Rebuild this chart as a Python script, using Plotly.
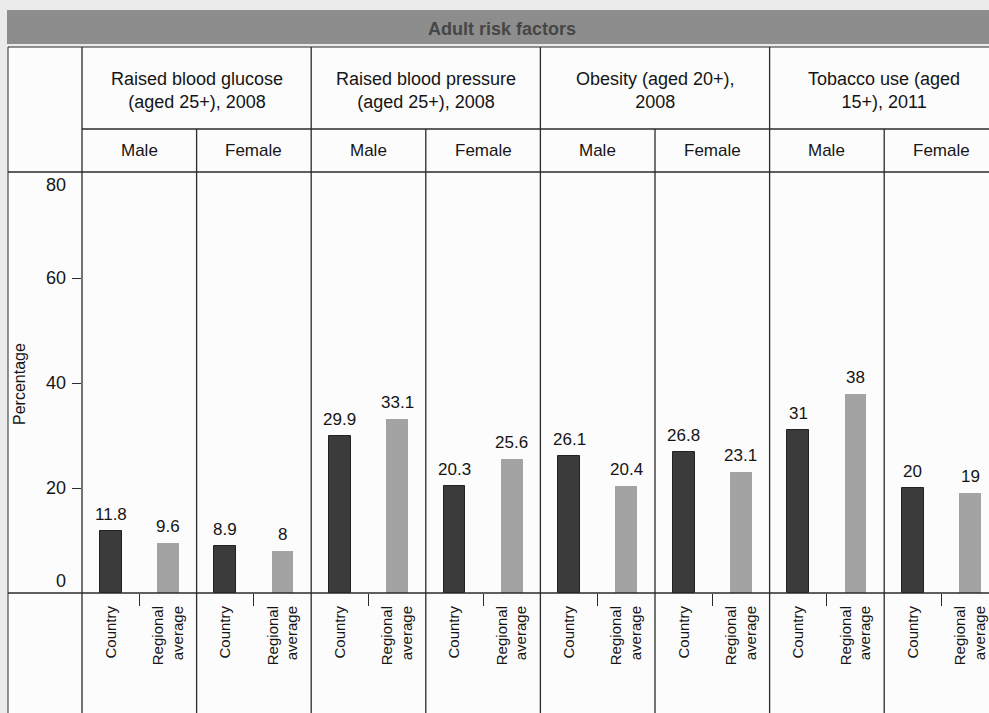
import plotly.graph_objects as go

# ---- data ----
groups = ["Raised blood glucose<br>(aged 25+), 2008",
          "Raised blood pressure<br>(aged 25+), 2008",
          "Obesity (aged 20+),<br>2008",
          "Tobacco use (aged<br>15+), 2011"]
sexes = ["Male", "Female"]
series_names = ["Country", "Regional<br>average"]
country_vals = [11.8, 8.9, 29.9, 20.3, 26.1, 26.8, 31, 20]
regional_vals = [9.6, 8, 33.1, 25.6, 20.4, 23.1, 38, 19]
country_labels = ["11.8", "8.9", "29.9", "20.3", "26.1", "26.8", "31", "20"]
regional_labels = ["9.6", "8", "33.1", "25.6", "20.4", "23.1", "38", "19"]
y_ticks = [0, 20, 40, 60, 80]
title = "Adult risk factors"
y_title = "Percentage"

# ---- geometry (pixels of the 989x713 page) ----
W, H = 989, 713
X0, SLOT = 82, 57.3
YTOP, YBOT = 173, 593
xr = [-0.5, -0.5 + (W - X0) / SLOT]


def px(x):
    return x / W


def py(y):
    return 1 - y / H


def dx(v):  # data x -> page pixel
    return X0 + (v - xr[0]) * SLOT


n = len(country_vals)
cx = [2 * i for i in range(n)]
rx = [2 * i + 1 for i in range(n)]

LINE = "#2b2b2b"
TXT = "#151515"
FONT = "Liberation Sans, Arial, sans-serif"

fig = go.Figure()
fig.add_trace(go.Bar(x=cx, y=country_vals, width=0.38,
                     marker=dict(color="#3b3b3b", line=dict(color="#222222", width=1)),
                     name="Country", showlegend=False, hoverinfo="y"))
fig.add_trace(go.Bar(x=rx, y=regional_vals, width=0.38,
                     marker=dict(color="#a3a3a3", line=dict(width=0)),
                     name="Regional average", showlegend=False, hoverinfo="y"))

ann = []
for xs, vals, labs in ((cx, country_vals, country_labels), (rx, regional_vals, regional_labels)):
    for x, v, t in zip(xs, vals, labs):
        ann.append(dict(x=x, y=v, xref="x", yref="y", text=t, showarrow=False,
                        yanchor="bottom", yshift=5, font=dict(size=17, color=TXT, family=FONT)))

# y tick labels (end labels sit inside the plot band as in the source table)
y_min, y_max = y_ticks[0], y_ticks[-1]
for t in y_ticks:
    shift = 12 if t == y_min else (-12 if t == y_max else 0)
    ann.append(dict(x=px(X0 - 14), y=t, xref="paper", yref="y", text=str(t), showarrow=False,
                    xanchor="right", yanchor="middle", yshift=shift,
                    font=dict(size=18, color=TXT, family=FONT)))

# header annotations
for g, name in enumerate(groups):
    ann.append(dict(x=px(dx(4 * g + 1.5)), y=py(90), xref="paper", yref="paper", text=name,
                    showarrow=False, xanchor="center", yanchor="middle",
                    font=dict(size=18, color=TXT, family=FONT)))
    for s, sname in enumerate(sexes):
        ann.append(dict(x=px(dx(4 * g + 2 * s + 0.5)), y=py(151), xref="paper", yref="paper", text=sname,
                        showarrow=False, xanchor="center", yanchor="middle",
                        font=dict(size=17, color=TXT, family=FONT)))

ann.append(dict(x=px(502), y=py(29), xref="paper", yref="paper", text="<b>" + title + "</b>",
                showarrow=False, xanchor="center", yanchor="middle",
                font=dict(size=18, color="#464646", family=FONT)))
ann.append(dict(x=px(19), y=py(384), xref="paper", yref="paper", text=y_title, textangle=-90,
                showarrow=False, xanchor="center", yanchor="middle",
                font=dict(size=16, color=TXT, family=FONT)))

shapes = []
# page / table backgrounds
shapes.append(dict(type="rect", xref="paper", yref="paper", x0=px(8), x1=1, y0=0, y1=py(47),
                   fillcolor="#fcfcfc", line=dict(width=0), layer="below"))
shapes.append(dict(type="rect", xref="paper", yref="paper", x0=px(7), x1=1, y0=py(44), y1=py(10),
                   fillcolor="#8d8d8d", line=dict(width=0), layer="below"))


def hline(y, x0, x1, w=1.4):
    shapes.append(dict(type="line", xref="paper", yref="paper", x0=px(x0), x1=px(x1), y0=py(y), y1=py(y),
                       line=dict(color=LINE, width=w)))


def vline(x, y0, y1, w=1.3):
    shapes.append(dict(type="line", xref="paper", yref="paper", x0=px(x), x1=px(x), y0=py(y0), y1=py(y1),
                       line=dict(color=LINE, width=w)))


hline(47, 8, W, 1.2)
hline(129, X0, W)
hline(172, 8, W)
hline(YBOT, 8, W, 1.6)
vline(8, 47, H, 1.0)
vline(X0, 47, H)
for g in range(1, 4):
    vline(dx(4 * g - 0.5), 47, H)
for g in range(4):
    vline(dx(4 * g + 1.5), 129, H)

tickvals = cx + rx
ticktext = [series_names[0]] * n + [series_names[1]] * n

fig.update_layout(
    width=W, height=H,
    margin=dict(l=0, r=0, t=0, b=0, autoexpand=False),
    paper_bgcolor="#ebebeb",
    plot_bgcolor="rgba(0,0,0,0)",
    bargap=0,
    annotations=ann,
    shapes=shapes,
    font=dict(family=FONT, color=TXT),
    xaxis=dict(domain=[px(X0), 1], range=xr, tickmode="array", tickvals=tickvals, ticktext=ticktext,
               tickangle=-90, ticks="", showgrid=False, zeroline=False, showline=False, automargin=False,
               ticklabelstandoff=9,
               tickfont=dict(size=15, family=FONT, color=TXT),
               minor=dict(tickmode="array", tickvals=[2 * i + 0.5 for i in range(n)], ticks="outside",
                          ticklen=12, tickwidth=1.3, tickcolor=LINE, showgrid=False)),
    yaxis=dict(domain=[py(YBOT), py(YTOP)], range=[y_min, y_max], tickmode="array",
               tickvals=y_ticks[1:-1], showticklabels=False, ticks="outside", ticklen=9, tickwidth=1.3,
               tickcolor=LINE, showgrid=False, zeroline=False, showline=False, automargin=False),
)

fig.write_html("out.html")
